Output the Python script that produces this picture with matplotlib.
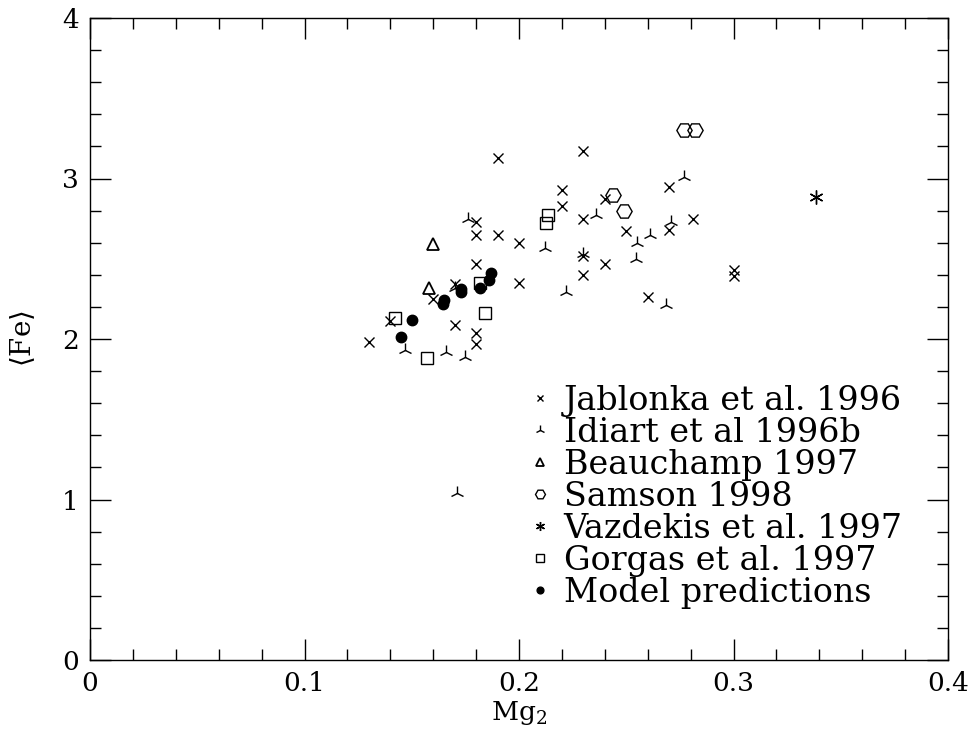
import matplotlib
matplotlib.use("Agg")
import matplotlib.pyplot as plt
from matplotlib.ticker import MultipleLocator

plt.rcParams['font.family'] = ['DejaVu Serif']
plt.rcParams['mathtext.fontset'] = 'dejavuserif'

jab_x = [0.130, 0.140, 0.160, 0.170, 0.170, 0.180, 0.180, 0.180, 0.180, 0.180, 0.190, 0.190,
         0.200, 0.200, 0.220, 0.220, 0.230, 0.230, 0.230, 0.230, 0.240, 0.240, 0.250, 0.260,
         0.270, 0.270, 0.281, 0.300, 0.300]
jab_y = [1.98, 2.11, 2.25, 2.34, 2.09, 2.73, 2.65, 2.47, 2.04, 1.97, 3.13, 2.65,
         2.60, 2.35, 2.93, 2.83, 3.17, 2.75, 2.52, 2.40, 2.87, 2.47, 2.67, 2.26,
         2.95, 2.68, 2.75, 2.43, 2.39]

idi_x = [0.176, 0.170, 0.147, 0.166, 0.175, 0.171, 0.277, 0.236, 0.271, 0.261, 0.255,
         0.212, 0.230, 0.2545, 0.222, 0.2685]
idi_y = [2.75, 2.32, 1.93, 1.92, 1.89, 1.04, 3.01, 2.77, 2.73, 2.65, 2.60,
         2.57, 2.53, 2.50, 2.29, 2.21]

bea_x = [0.160, 0.158]
bea_y = [2.59, 2.32]

sam_x = [0.244, 0.249, 0.277, 0.282]
sam_y = [2.90, 2.80, 3.30, 3.30]

vaz_x = [0.3385]
vaz_y = [2.885]

gor_x = [0.142, 0.157, 0.182, 0.184, 0.2135, 0.2126]
gor_y = [2.13, 1.88, 2.35, 2.16, 2.77, 2.72]

mod_x = [0.145, 0.150, 0.1652, 0.1644, 0.173, 0.173, 0.182, 0.186, 0.187]
mod_y = [2.01, 2.12, 2.24, 2.22, 2.31, 2.29, 2.32, 2.37, 2.41]

labels = ["Jablonka et al. 1996", "Idiart et al 1996b", "Beauchamp 1997",
          "Samson 1998", "Vazdekis et al. 1997", "Gorgas et al. 1997",
          "Model predictions"]

fig = plt.figure(figsize=(9.74, 7.38), dpi=100)
ax = fig.add_axes([90/974, 78/738, 858/974, 642/738])

kw = dict(linestyle='none', color='black')
ax.plot(jab_x, jab_y, marker='x', markersize=7, markeredgewidth=1.0, label=labels[0], **kw)
ax.plot(idi_x, idi_y, marker='2', markersize=10, markeredgewidth=1.0, label=labels[1], **kw)
ax.plot(bea_x, bea_y, marker='^', markersize=8, markerfacecolor='none', markeredgewidth=1.3, label=labels[2], **kw)
ax.plot(sam_x, sam_y, marker='H', markersize=11, markerfacecolor='none', markeredgewidth=1.0, label=labels[3], **kw)
ax.plot(vaz_x, vaz_y, marker=(6, 2, 0), markersize=10, markeredgewidth=1.0, label=labels[4], **kw)
ax.plot(gor_x, gor_y, marker='s', markersize=8.5, markerfacecolor='none', markeredgewidth=1.0, label=labels[5], **kw)
ax.plot(mod_x, mod_y, marker='o', markersize=7.5, label=labels[6], **kw)

ax.set_xlim(0, 0.4)
ax.set_ylim(0, 4)
ax.xaxis.set_minor_locator(MultipleLocator(0.02))
ax.yaxis.set_minor_locator(MultipleLocator(0.2))
ax.set_xticks([0, 0.1, 0.2, 0.3, 0.4])
ax.set_xticklabels(["0", "0.1", "0.2", "0.3", "0.4"])
ax.set_yticks([0, 1, 2, 3, 4])
ax.set_yticklabels(["0", "1", "2", "3", "4"])
ax.tick_params(which='both', direction='in', top=True, right=True, width=1.0, labelsize=19)
ax.tick_params(which='major', length=15, pad=8)
ax.tick_params(which='minor', length=8)
for s in ax.spines.values():
    s.set_linewidth(1.0)

ax.set_xlabel(r"Mg$_2$", fontsize=19, labelpad=2)
ax.set_ylabel(r"$\langle$Fe$\rangle$", fontsize=20, labelpad=18)

leg = ax.legend(loc='upper left', bbox_to_anchor=(0.4995, 0.449), frameon=False,
                fontsize=24, handlelength=0.5, handletextpad=0.45, labelspacing=0.0,
                markerscale=0.65, borderaxespad=0)

fig.savefig("out.png", dpi=100)
